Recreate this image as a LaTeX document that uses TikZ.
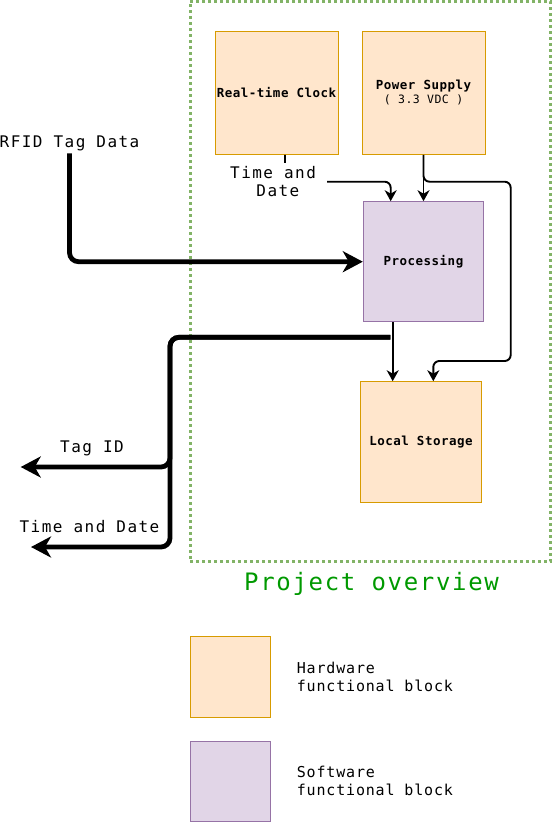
\documentclass[tikz,border=0pt]{standalone}
\usepackage{fontspec}
\setmainfont{DejaVu Sans Mono}
\newfontfamily\lblfont[LetterSpace=9]{DejaVu Sans Mono}
\newfontfamily\boxfont[LetterSpace=4]{DejaVu Sans Mono}
\newfontfamily\legfont[LetterSpace=5.5]{DejaVu Sans Mono}
\newfontfamily\titfont[LetterSpace=7]{DejaVu Sans Mono}
\usetikzlibrary{arrows.meta}
\definecolor{hwfill}{HTML}{FFE6CC}
\definecolor{hwline}{HTML}{D79B00}
\definecolor{swfill}{HTML}{E1D5E7}
\definecolor{swline}{HTML}{9673A6}
\definecolor{grpline}{HTML}{82B366}
\definecolor{titgreen}{HTML}{009900}
\tikzset{
  hwbox/.style={draw=hwline, fill=hwfill, line width=1pt, inner sep=0pt},
  swbox/.style={draw=swline, fill=swfill, line width=1pt, inner sep=0pt},
  boxlbl/.style={font={\boxfont\fontsize{12.5}{14}\selectfont\bfseries}, align=center},
  lbl/.style={font={\lblfont\fontsize{16}{17.7}\selectfont}, inner sep=0pt},
  leglbl/.style={font={\legfont\fontsize{15}{18.6}\selectfont}, inner sep=0pt, align=left},
  thinline/.style={line width=1.9pt, rounded corners=6pt, -{Stealth[length=11pt,width=12pt,inset=3.5pt]}},
  thickline/.style={line width=4.8pt, rounded corners=9pt, -{Stealth[length=20pt,width=21pt,inset=6pt]}}
}
\begin{document}
\begin{tikzpicture}[x=1pt,y=-1pt]
\useasboundingbox (0,0) rectangle (553,822);
% group
\node[draw=grpline, line width=3pt, dash pattern=on 3pt off 3pt, minimum width=360.5pt, minimum height=560pt, inner sep=0pt] (group) at (370.25,281) {};
\node[font={\titfont\fontsize{24}{27}\selectfont}, text=titgreen, anchor=base, inner sep=0pt] (title) at (371.6,590) {Project overview};
% boxes
\node[hwbox, boxlbl, minimum width=123pt, minimum height=122.6pt] (rtc) at (276.5,93) {Real-time Clock};
\node[hwbox, boxlbl, minimum width=123pt, minimum height=122.6pt] (ps) at (423.5,93) {Power Supply\\{\mdseries\fontsize{11.5}{14}\selectfont ( 3.3 VDC )}};
\node[swbox, boxlbl, minimum width=120.2pt, minimum height=120pt] (proc) at (423.4,261.7) {Processing};
\node[hwbox, boxlbl, minimum width=121.4pt, minimum height=121pt] (store) at (421,442.2) {Local Storage};
% legend
\node[hwbox, minimum width=80.4pt, minimum height=80.3pt] (leghw) at (230.5,676.85) {};
\node[swbox, minimum width=80.4pt, minimum height=80pt] (legsw) at (230.5,781.3) {};
\node[leglbl, anchor=west] (leghwt) at (296.7,676.9) {Hardware\\functional block};
\node[leglbl, anchor=west] (legswt) at (296.7,780.9) {Software\\functional block};
% external labels
\node[lbl, anchor=base west] (rfid) at (-0.5,147.7) {RFID Tag Data};
\node[lbl, anchor=base] (tagid) at (92,452.7) {Tag ID};
\node[lbl, anchor=base] (tdout) at (89.5,532) {Time and Date};
\coordinate (outsrc) at (390.3,337.3);
\coordinate (tagend) at (20.7,467);
\coordinate (tdend) at (31,547);
% connectors
\draw[thinline] ([xshift=8.5pt]rtc.south) |- (350,181.7) -| ([xshift=-32.7pt]proc.north);
\node[lbl, fill=white, align=center, minimum width=99pt, minimum height=37pt] (tdlbl) at (277.9,181.7) {Time and\hphantom{x}\\Date};
\draw[thinline] (ps.south) -- (ps.south |- proc.north);
\draw[thinline] (ps.south) |- (510.7,181.7) -- (510.7,361) -| ([xshift=12.3pt]store.north);
\draw[thinline] ([xshift=-30.7pt]proc.south) -- ([xshift=-30.7pt]proc.south |- store.north);
\draw[thickline] ([yshift=-2pt]rfid.south) |- (proc.west);
\draw[thickline] (outsrc) -| (170,467) -- (tagend);
\draw[thickline] (outsrc) -| (170,547) -- (tdend);
\end{tikzpicture}
\end{document}
